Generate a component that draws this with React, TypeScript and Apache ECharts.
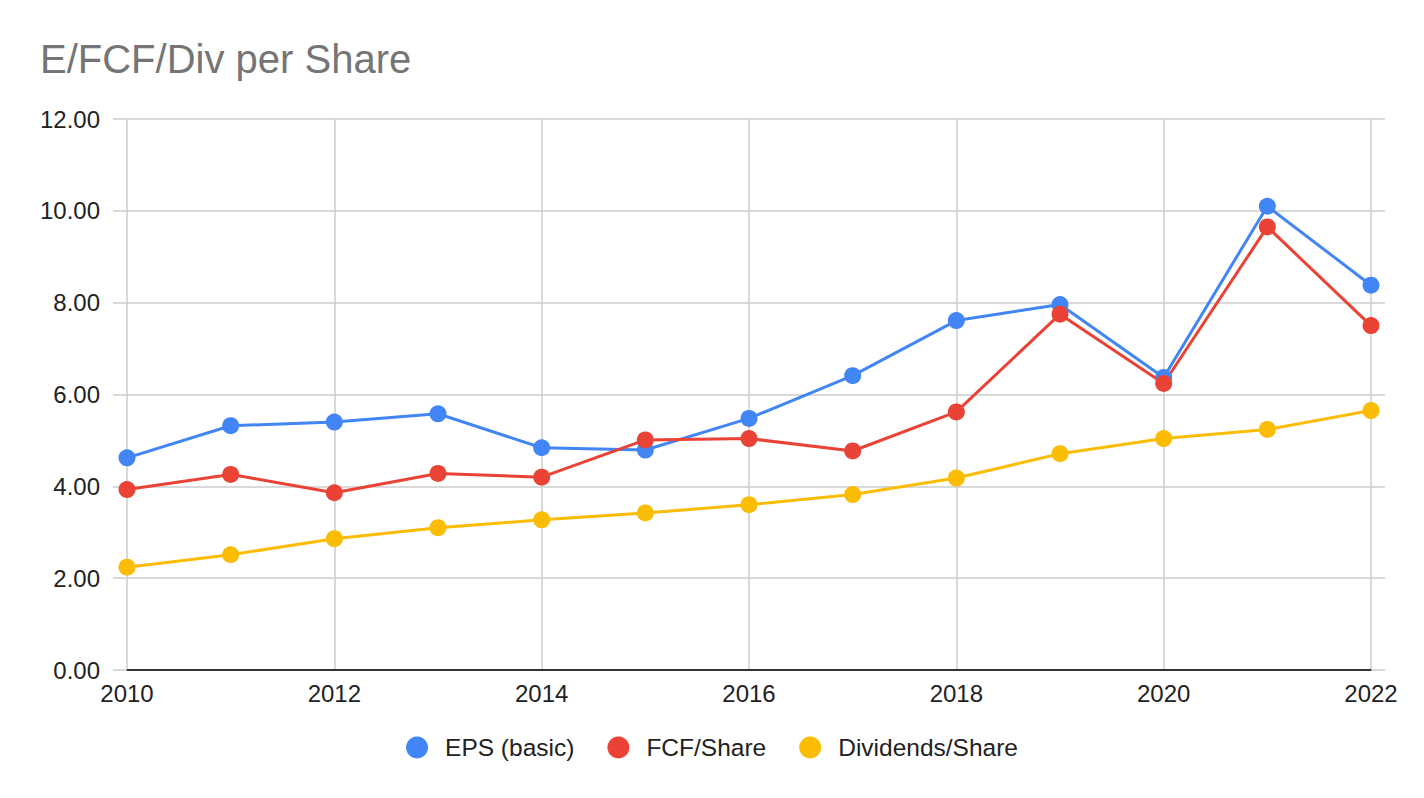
import React, { useEffect, useRef } from "react";
import * as echarts from "echarts";

const years = [2010, 2011, 2012, 2013, 2014, 2015, 2016, 2017, 2018, 2019, 2020, 2021, 2022];
const epsBasic = [4.62, 5.32, 5.40, 5.58, 4.84, 4.79, 5.48, 6.41, 7.61, 7.96, 6.37, 10.10, 8.38];
const fcfShare = [3.93, 4.26, 3.86, 4.28, 4.20, 5.01, 5.04, 4.77, 5.62, 7.75, 6.24, 9.65, 7.50];
const divShare = [2.24, 2.51, 2.86, 3.10, 3.27, 3.42, 3.60, 3.82, 4.18, 4.71, 5.04, 5.24, 5.65];
const seriesNames = ["EPS (basic)", "FCF/Share", "Dividends/Share"];
const seriesColors = ["#4285F4", "#EA4335", "#FBBC04"];

const FONT = "Arial, 'Liberation Sans', sans-serif";

export default function App() {
  const ref = useRef<HTMLDivElement>(null);
  useEffect(() => {
    if (!ref.current) return;
    const chart = echarts.init(ref.current, undefined, { renderer: "svg" });
    const datasets = [epsBasic, fcfShare, divShare];
    const yAxisBase = {
      type: "value",
      min: 0,
      max: 12,
      interval: 2,
    };
    chart.setOption({
      animation: false,
      backgroundColor: "#ffffff",
      title: {
        text: "E/FCF/Div per Share",
        left: 35,
        top: 34,
        textStyle: { color: "#757575", fontSize: 40, fontWeight: "normal", fontFamily: FONT },
      },
      legend: {
        left: "center",
        top: 730,
        icon: "circle",
        itemWidth: 22,
        itemHeight: 22,
        itemGap: 33,
        data: seriesNames,
        textStyle: { color: "#222222", fontSize: 24.5, fontFamily: FONT, padding: [0, 0, 0, 12] },
      },
      grid: { left: 127, right: 53, top: 119, bottom: 128, containLabel: false },
      xAxis: {
        type: "value",
        min: 2010,
        max: 2022,
        interval: 2,
        axisLine: { show: true, lineStyle: { color: "#333333", width: 2 } },
        axisTick: { show: false },
        axisLabel: { color: "#222222", fontSize: 24, fontFamily: FONT, margin: 11, formatter: (v: number) => String(v) },
        splitLine: { show: true, lineStyle: { color: "#cccccc", width: 1.5 } },
      },
      yAxis: [
        {
          ...yAxisBase,
          position: "left",
          axisLine: { show: false },
          axisTick: { show: true, length: 14, lineStyle: { color: "#cccccc", width: 1.5 } },
          axisLabel: { color: "#222222", fontSize: 24, fontFamily: FONT, margin: 27, formatter: (v: number) => v.toFixed(2) },
          splitLine: { show: true, lineStyle: { color: "#cccccc", width: 1.5 } },
        },
        {
          ...yAxisBase,
          position: "right",
          axisLine: { show: false },
          axisTick: { show: true, length: 14, lineStyle: { color: "#cccccc", width: 1.5 } },
          axisLabel: { show: false },
          splitLine: { show: false },
        },
      ],
      series: datasets.map((d, i) => ({
        name: seriesNames[i],
        type: "line",
        yAxisIndex: 0,
        data: years.map((y, j) => [y, d[j]]),
        color: seriesColors[i],
        symbol: "circle",
        symbolSize: 17,
        showSymbol: true,
        lineStyle: { width: 3, color: seriesColors[i] },
        itemStyle: { color: seriesColors[i] },
      })),
    });
    return () => chart.dispose();
  }, []);
  return <div ref={ref} style={{ position: "fixed", left: 0, top: 0, width: 1424, height: 798 }} />;
}
